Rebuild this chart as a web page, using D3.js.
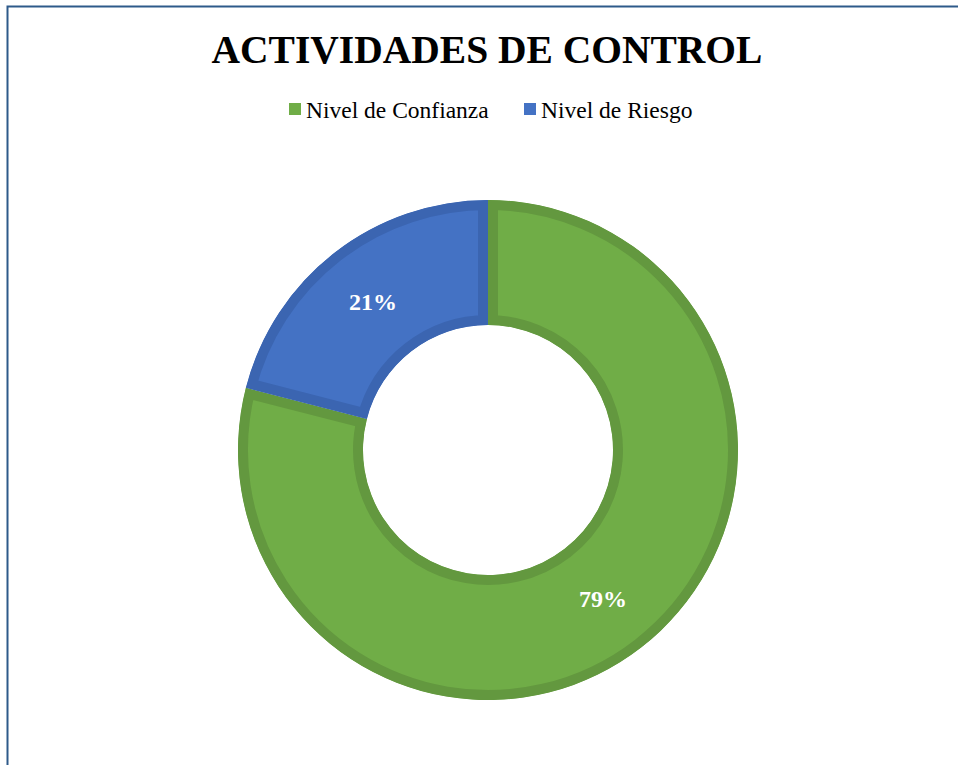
<!DOCTYPE html>
<html>
<head>
<meta charset="utf-8">
<script src="https://cdn.jsdelivr.net/npm/d3@7"></script>
<style>
  body { margin: 0; background: #fff; }
  #chart { width: 958px; height: 765px; }
</style>
</head>
<body>
<div id="chart"></div>
<script>
var categories = ["Nivel de Confianza", "Nivel de Riesgo"];
var values = [79, 21];
var fills = ["#70ad47", "#4472c4"];
var edges = ["#63983f", "#3b65b1"];
var title = "ACTIVIDADES DE CONTROL";

var width = 958, height = 765;
var cx = 488, cy = 450, outerR = 250, innerR = 125;

let svg = d3.select("#chart")
    .append("svg")
    .attr("width", width)
    .attr("height", height);

// chart frame
svg.append("rect")
    .attr("x", 7.5)
    .attr("y", 6.5)
    .attr("width", 970)
    .attr("height", 790)
    .attr("fill", "none")
    .attr("stroke", "#2e5a8a")
    .attr("stroke-width", 2);

svg.append("text")
    .attr("x", 487)
    .attr("y", 63)
    .attr("text-anchor", "middle")
    .style("font-family", "'Liberation Serif', 'Times New Roman', serif")
    .style("font-weight", "bold")
    .style("font-size", "39.5px")
    .attr("fill", "#000")
    .text(title);

// legend
let legend = svg.append("g");
let legendX = [289, 524];
categories.forEach(function (c, i) {
    legend.append("rect")
        .attr("x", legendX[i])
        .attr("y", 103)
        .attr("width", 12)
        .attr("height", 12)
        .attr("fill", fills[i]);
    legend.append("text")
        .attr("x", legendX[i] + 17)
        .attr("y", 118)
        .style("font-family", "'Liberation Serif', 'Times New Roman', serif")
        .style("font-size", "23.5px")
        .attr("fill", "#000")
        .text(c);
});

let pie = d3.pie().sort(null).value(function (d) { return d; });
let arcs = pie(values);
let arc = d3.arc().innerRadius(innerR).outerRadius(outerR);
let labelArc = d3.arc().innerRadius((innerR + outerR) / 2).outerRadius((innerR + outerR) / 2);
let total = d3.sum(values);

let g = svg.append("g").attr("transform", "translate(" + cx + "," + cy + ")");
let defs = svg.append("defs");

arcs.forEach(function (d, i) {
    defs.append("clipPath")
        .attr("id", "clip" + i)
        .append("path")
        .attr("d", arc(d));
});

g.selectAll(".slice")
    .data(arcs)
    .enter()
    .append("path")
    .attr("class", "slice")
    .attr("d", arc)
    .attr("fill", function (d, i) { return fills[i]; })
    .attr("stroke", function (d, i) { return edges[i]; })
    .attr("stroke-width", 20)
    .attr("clip-path", function (d, i) { return "url(#clip" + i + ")"; });

g.selectAll(".lbl")
    .data(arcs)
    .enter()
    .append("text")
    .attr("class", "lbl")
    .attr("transform", function (d) { return "translate(" + labelArc.centroid(d) + ")"; })
    .attr("dy", "0.35em")
    .attr("text-anchor", "middle")
    .style("font-family", "'Liberation Serif', 'Times New Roman', serif")
    .style("font-weight", "bold")
    .style("font-size", "24px")
    .attr("fill", "#fff")
    .text(function (d) { return Math.round(d.data / total * 100) + "%"; });
</script>
</body>
</html>
